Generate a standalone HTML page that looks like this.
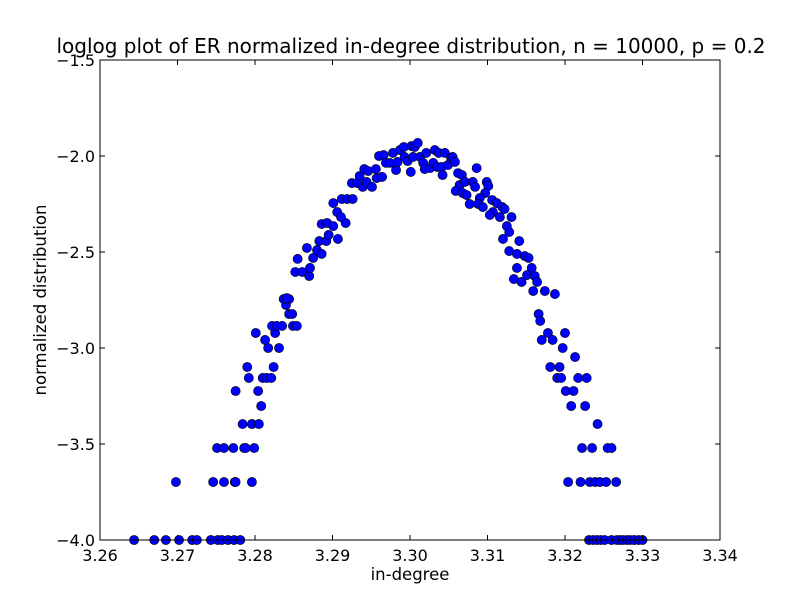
<!DOCTYPE html>
<html>
<head>
<meta charset="utf-8">
<style>
  html, body { margin: 0; padding: 0; background: #ffffff; }
  svg { display: block; font-family: "DejaVu Sans", "Liberation Sans", sans-serif; }
</style>
</head>
<body>
<svg id="chart" width="800" height="600" viewBox="0 0 800 600">
  <rect x="0" y="0" width="800" height="600" fill="#ffffff"/>
  <rect x="100" y="60" width="620" height="480" fill="#ffffff"/>
  <g id="points"></g>
  <g id="ticks"></g>
  <rect x="100" y="60" width="620" height="480" fill="none" stroke="#000" stroke-width="1"/>
  <text x="411" y="53" font-size="20" text-anchor="middle">loglog plot of ER normalized in-degree distribution, n = 10000, p = 0.2</text>
  <text x="410" y="580" font-size="16.5" text-anchor="middle">in-degree</text>
  <text x="46" y="300" font-size="16.5" text-anchor="middle" transform="rotate(-90 46 300)">normalized distribution</text>
</svg>
<script>
const xTicks = [3.26, 3.27, 3.28, 3.29, 3.30, 3.31, 3.32, 3.33, 3.34];
const xTickLabels = ["3.26", "3.27", "3.28", "3.29", "3.30", "3.31", "3.32", "3.33", "3.34"];
const yTicks = [-4.0, -3.5, -3.0, -2.5, -2.0, -1.5];
const yTickLabels = ["\u22124.0", "\u22123.5", "\u22123.0", "\u22122.5", "\u22122.0", "\u22121.5"];

const degreeLog = [
3.2644,3.2670,3.2685,3.2702,3.2719,3.2725,3.2743,3.2752,3.2757,3.2765,3.2773,3.2781,
3.2698,3.2746,3.2760,3.2774,3.2775,3.2796,
3.2751,3.2760,3.2772,3.2786,3.2788,3.2799,
3.2784,3.2796,3.2805,
3.2808,
3.2775,3.2804,
3.2792,3.2810,3.2815,3.2821,
3.2790,3.2824,
3.2817,3.2831,
3.2813,
3.2801,3.2826,
3.2822,3.2828,3.2835,3.2849,3.2854,
3.2844,3.2848,
3.2840,
3.2837,3.2844,3.2841,
3.2852,3.2855,3.2861,3.2870,3.2871,3.2867,3.2875,3.2880,3.2886,3.2883,3.2892,3.2895,3.2907,
3.2886,3.2893,3.2901,3.2917,3.2906,3.2911,3.2901,3.2912,3.2919,3.2926,3.2925,3.2932,3.2939,
3.2935,3.2941,3.2946,3.2944,3.2951,3.2956,3.2957,3.2964,3.2960,3.2966,3.2969,3.2974,3.2978,
3.2982,3.2984,3.2987,3.2992,3.2993,3.2997,3.3001,3.3002,3.3006,3.3010,3.3004,3.3013,3.3017,
3.3021,3.3019,3.3026,3.3030,3.3032,3.3035,3.3037,3.3041,3.3042,3.3045,3.3049,3.3053,3.3055,
3.3058,3.3062,3.3067,3.3086,3.3064,3.3071,3.3081,3.3059,3.3068,3.3073,3.3084,3.3099,3.3101,
3.3097,3.3090,3.3077,3.3088,3.3094,3.3106,3.3112,3.3119,3.3122,3.3107,3.3103,3.3116,3.3131,
3.3125,3.3128,3.3120,3.3141,3.3128,3.3138,3.3148,3.3153,3.3138,3.3157,3.3151,3.3134,3.3144,
3.3161,3.3164,3.3159,
3.3174,3.3187,3.3166,3.3168,3.3178,3.3200,3.3170,3.3184,3.3197,3.3213,3.3181,3.3193,3.3190,
3.3195,3.3217,3.3228,3.3201,3.3211,3.3208,3.3226,3.3242,
3.3222,3.3235,3.3255,3.3260,
3.3204,3.3220,3.3232,3.3239,3.3245,3.3253,3.3266,
3.3231,3.3236,3.3241,3.3246,3.3251,3.3260,3.3267,3.3271,3.3275,3.3280,3.3284,3.3289,3.3295,3.3300
];
const logDist = [
-4,-4,-4,-4,-4,-4,-4,-4,-4,-4,-4,-4,
-3.698,-3.698,-3.698,-3.698,-3.698,-3.698,
-3.521,-3.521,-3.521,-3.521,-3.521,-3.521,
-3.396,-3.396,-3.396,
-3.302,
-3.224,-3.224,
-3.156,-3.156,-3.156,-3.156,
-3.099,-3.099,
-3.0,-3.0,
-2.958,
-2.922,-2.922,
-2.885,-2.885,-2.885,-2.885,-2.885,
-2.823,-2.823,
-2.776,
-2.745,-2.745,-2.740,
-2.604,-2.536,-2.604,-2.625,-2.583,-2.479,-2.531,-2.490,-2.510,-2.443,-2.443,-2.411,-2.432,
-2.354,-2.349,-2.365,-2.349,-2.292,-2.318,-2.245,-2.224,-2.224,-2.224,-2.141,-2.141,-2.161,
-2.104,-2.068,-2.078,-2.135,-2.161,-2.068,-2.115,-2.109,-2.0,-1.995,-2.036,-2.036,-1.984,
-2.073,-2.031,-1.969,-1.953,-2.005,-2.026,-2.083,-1.948,-1.953,-1.932,-2.005,-2.005,-2.036,
-1.984,-2.068,-2.063,-2.036,-1.969,-2.057,-1.984,-2.057,-2.099,-1.984,-2.047,-2.010,-2.005,
-2.031,-2.089,-2.099,-2.063,-2.151,-2.135,-2.135,-2.182,-2.193,-2.203,-2.161,-2.135,-2.156,
-2.193,-2.219,-2.250,-2.250,-2.266,-2.229,-2.245,-2.266,-2.276,-2.292,-2.307,-2.318,-2.318,
-2.365,-2.396,-2.432,-2.443,-2.495,-2.510,-2.521,-2.531,-2.583,-2.583,-2.620,-2.641,-2.656,
-2.625,-2.656,-2.703,
-2.703,-2.719,-2.823,-2.859,-2.922,-2.922,-2.958,-2.958,-3.0,-3.047,-3.099,-3.099,-3.156,
-3.156,-3.156,-3.156,-3.224,-3.224,-3.302,-3.302,-3.396,
-3.521,-3.521,-3.521,-3.521,
-3.698,-3.698,-3.698,-3.698,-3.698,-3.698,-3.698,
-4,-4,-4,-4,-4,-4,-4,-4,-4,-4,-4,-4,-4,-4
];

const NS = "http://www.w3.org/2000/svg";
const X0 = 100, X1 = 720, Y0 = 60, Y1 = 540;
const xMin = 3.26, xMax = 3.34, yMin = -4.0, yMax = -1.5;
function xScale(v) { return X0 + (v - xMin) / (xMax - xMin) * (X1 - X0); }
function yScale(v) { return Y1 - (v - yMin) / (yMax - yMin) * (Y1 - Y0); }

const pts = document.getElementById("points");
for (let i = 0; i < degreeLog.length; i++) {
  const c = document.createElementNS(NS, "circle");
  c.setAttribute("cx", xScale(degreeLog[i]));
  c.setAttribute("cy", yScale(logDist[i]));
  c.setAttribute("r", 4.6);
  c.setAttribute("fill", "#0000ff");
  c.setAttribute("stroke", "#000");
  c.setAttribute("stroke-width", "0.6");
  
  
  pts.appendChild(c);
}

const tg = document.getElementById("ticks");
function line(x1, y1, x2, y2, name) {
  const l = document.createElementNS(NS, "line");
  l.setAttribute("x1", x1); l.setAttribute("y1", y1);
  l.setAttribute("x2", x2); l.setAttribute("y2", y2);
  l.setAttribute("stroke", "#000"); l.setAttribute("stroke-width", "1");
  
  
  tg.appendChild(l);
}
function label(x, y, s, anchor, name) {
  const t = document.createElementNS(NS, "text");
  t.setAttribute("x", x); t.setAttribute("y", y);
  t.setAttribute("font-size", "16");
  t.setAttribute("text-anchor", anchor);
  t.textContent = s;
  
  
  tg.appendChild(t);
}
xTicks.forEach((v, i) => {
  const x = xScale(v);
  line(x, Y1, x, Y1 - 5, 'x-tick');
  line(x, Y0, x, Y0 + 5, 'x-tick-top');
  label(x, Y1 + 21, xTickLabels[i], "middle", 'x-tick-label');
});
yTicks.forEach((v, i) => {
  const y = yScale(v);
  line(X0, y, X0 + 5, y, 'y-tick');
  line(X1, y, X1 - 5, y, 'y-tick-right');
  label(X0 - 5, y + 6, yTickLabels[i], "end", 'y-tick-label');
});
</script>
</body>
</html>
